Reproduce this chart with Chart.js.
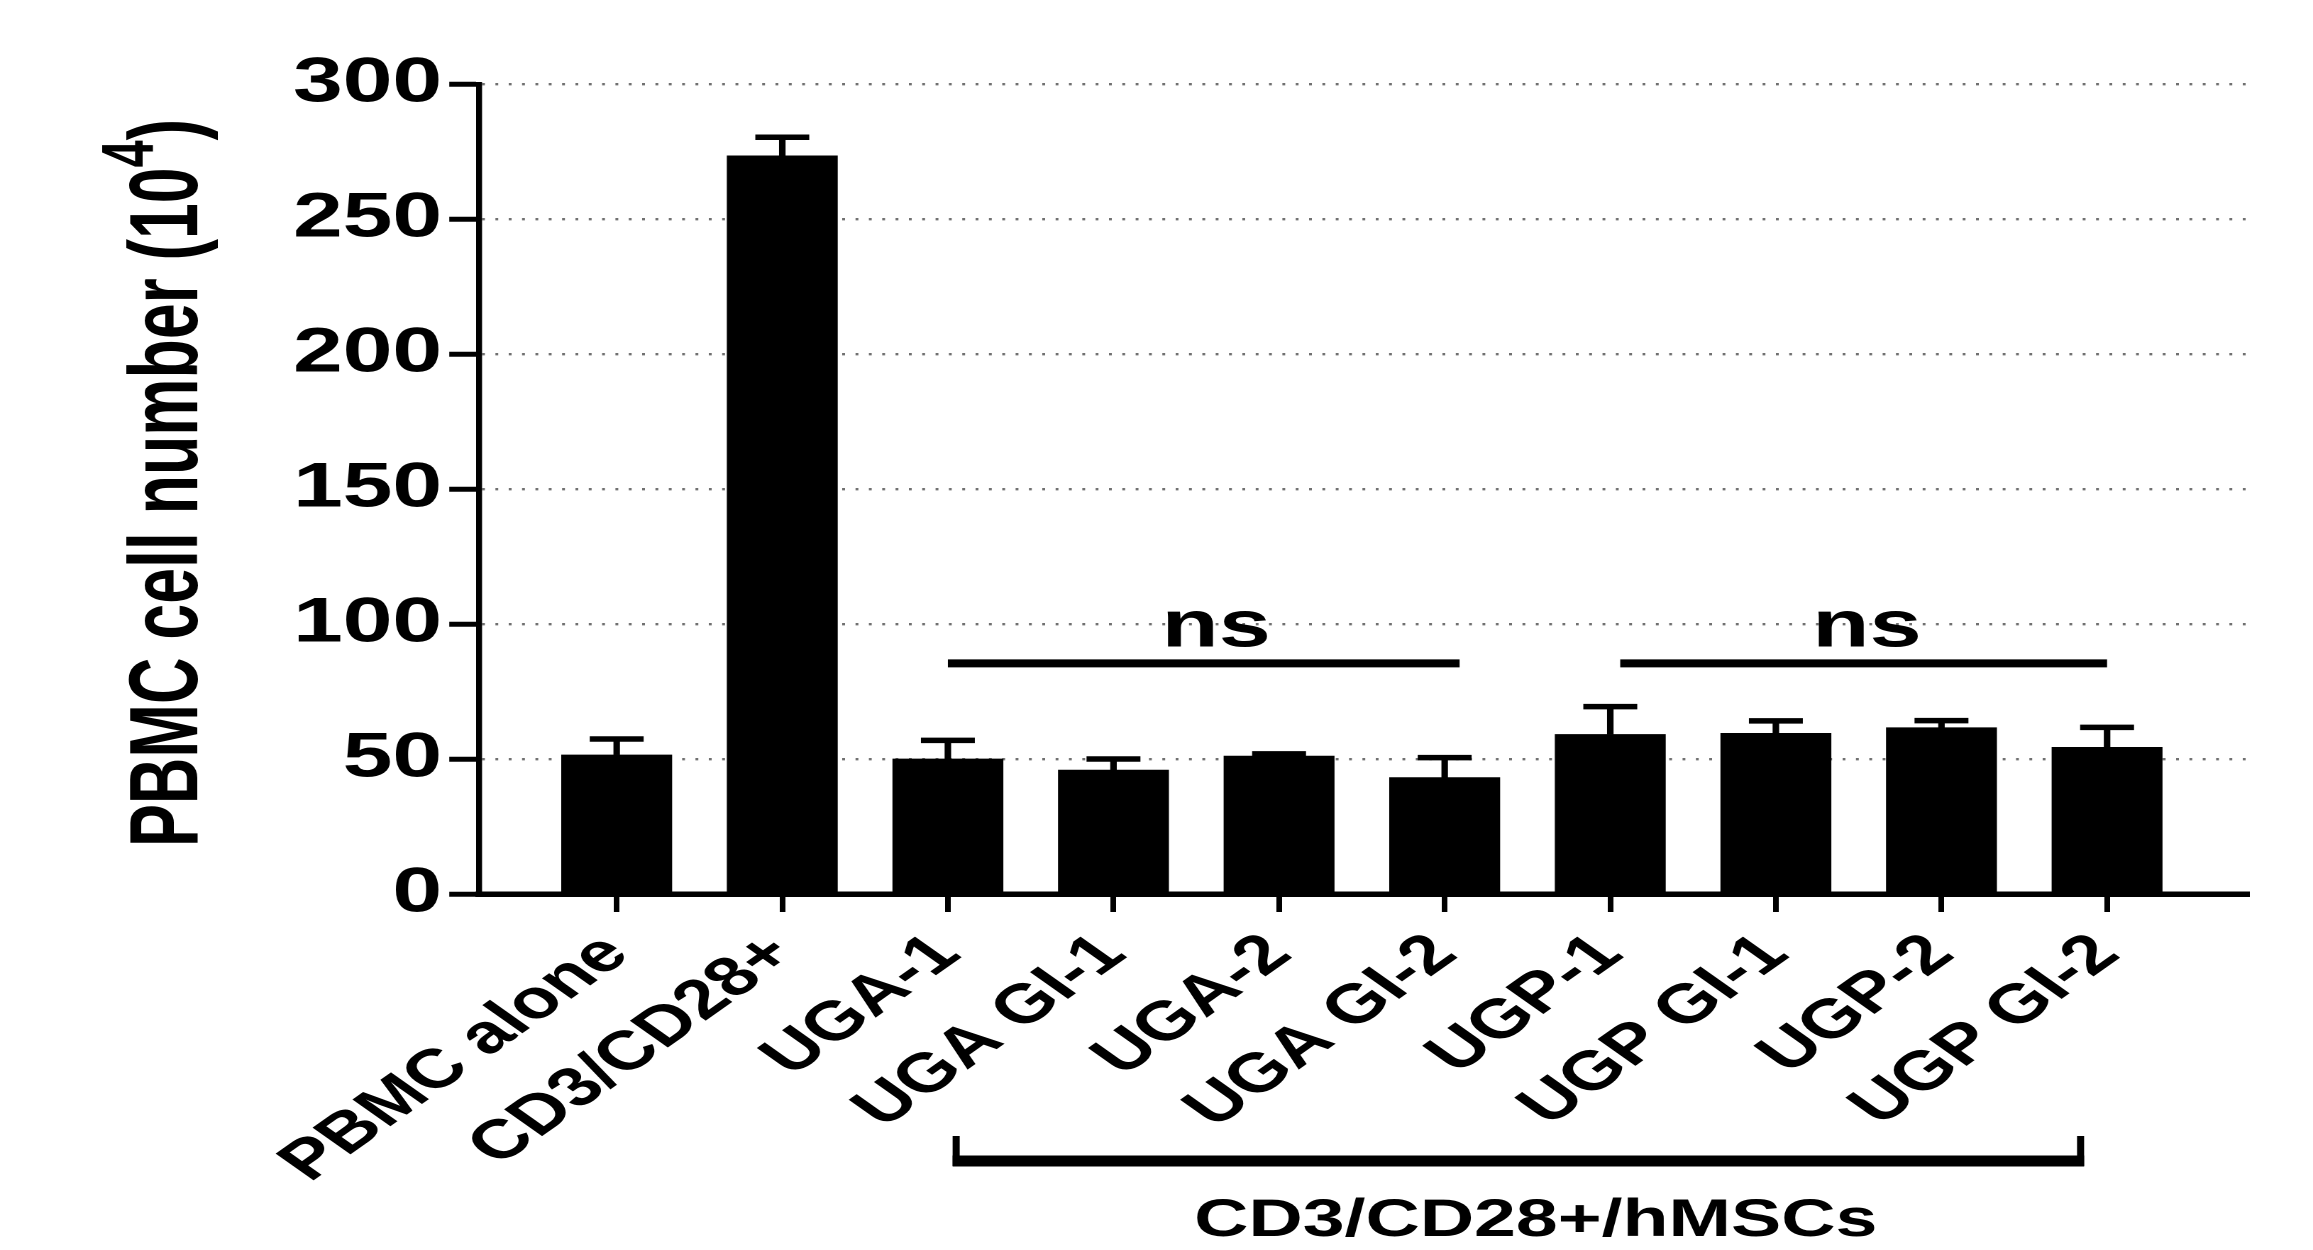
<!DOCTYPE html>
<html>
<head>
<meta charset="utf-8">
<script src="https://cdn.jsdelivr.net/npm/chart.js@4.4.1/dist/chart.umd.min.js"></script>
<style>
  html, body { margin: 0; padding: 0; background: #fff; overflow: hidden; }
  #wrap { width: 1630px; height: 1250px; transform: scaleX(1.419018); transform-origin: 0 0; }
</style>
</head>
<body>
<div id="wrap"><canvas id="c" width="1630" height="1250"></canvas></div>
<script>
// ---- data ----
const categories = ['PBMC alone', 'CD3/CD28+', 'UGA-1', 'UGA GI-1', 'UGA-2', 'UGA GI-2', 'UGP-1', 'UGP GI-1', 'UGP-2', 'UGP GI-2'];
const means = [51.5, 273.4, 50.0, 45.9, 51.1, 43.1, 59.1, 59.5, 61.6, 54.3];
const sems  = [5.9, 6.9, 6.9, 4.1, 0.8, 7.4, 10.3, 4.6, 2.6, 7.4];
const yTicks = [0, 50, 100, 150, 200, 250, 300];
const yTitleMain = 'PBMC cell number (10';
const yTitleSup = '4';
const yTitleEnd = ')';
const nsLabel = 'ns';
const nsGroups = [ { from: 2.0, to: 5.09, textX: 3.62 }, { from: 6.06, to: 9.0, textX: 7.55 } ];
const nsLineValue = 85.4;
const nsTextValue = 91.6;
const groupLabel = 'CD3/CD28+/hMSCs';
const bracketRange = { from: 2.05, to: 8.84, labelX: 5.55 };

const FONT = "'Liberation Sans', Arial, Helvetica, sans-serif";

const errorBars = {
  id: 'errorBars',
  afterDatasetsDraw(chart) {
    const ctx = chart.ctx, ys = chart.scales.y;
    const meta = chart.getDatasetMeta(0);
    ctx.save();
    ctx.strokeStyle = '#000';
    ctx.lineCap = 'butt';
    meta.data.forEach((bar, i) => {
      const top = ys.getPixelForValue(means[i] + sems[i]);
      ctx.lineWidth = 4.6;
      ctx.beginPath(); ctx.moveTo(bar.x, bar.y); ctx.lineTo(bar.x, top); ctx.stroke();
      ctx.lineWidth = 5.5;
      ctx.beginPath(); ctx.moveTo(bar.x - 19, top); ctx.lineTo(bar.x + 19, top); ctx.stroke();
    });
    ctx.restore();
  }
};

const yTitlePlugin = {
  id: 'yTitlePlugin',
  afterDraw(chart) {
    const ctx = chart.ctx, area = chart.chartArea;
    const cx = 113, cy = (area.top + area.bottom) / 2 - 6;
    ctx.save();
    ctx.translate(cx, cy);
    ctx.rotate(-Math.PI / 2);
    ctx.fillStyle = '#000';
    ctx.textBaseline = 'alphabetic';
    ctx.textAlign = 'left';
    const mainFont = 'bold 69px ' + FONT, supFont = 'bold 52px ' + FONT;
    ctx.font = mainFont; const w1 = ctx.measureText(yTitleMain).width; const w3 = ctx.measureText(yTitleEnd).width;
    ctx.font = supFont; const w2 = ctx.measureText(yTitleSup).width;
    const total = w1 + w2 + w3;
    ctx.scale(728 / total, 1);
    let x = -total / 2;
    const base = 26;
    ctx.font = mainFont; ctx.fillText(yTitleMain, x, base); x += w1;
    ctx.font = supFont; ctx.fillText(yTitleSup, x, base - 31); x += w2;
    ctx.font = mainFont; ctx.fillText(yTitleEnd, x, base);
    ctx.restore();
  }
};

const annotations = {
  id: 'annotations',
  afterDraw(chart) {
    const ctx = chart.ctx, xs = chart.scales.x, ys = chart.scales.y, area = chart.chartArea;
    ctx.save();
    ctx.strokeStyle = '#000';
    ctx.fillStyle = '#000';
    nsGroups.forEach(g => {
      const y = ys.getPixelForValue(nsLineValue);
      ctx.lineWidth = 8;
      ctx.beginPath(); ctx.moveTo(xs.getPixelForValue(g.from), y); ctx.lineTo(xs.getPixelForValue(g.to), y); ctx.stroke();
      ctx.font = 'bold 66px ' + FONT;
      ctx.textAlign = 'center'; ctx.textBaseline = 'alphabetic';
      ctx.fillText(nsLabel, xs.getPixelForValue(g.textX), ys.getPixelForValue(nsTextValue));
    });
    const bx1 = xs.getPixelForValue(bracketRange.from), bx2 = xs.getPixelForValue(bracketRange.to);
    const by = area.bottom + 267, byTop = area.bottom + 242;
    ctx.lineWidth = 11;
    ctx.beginPath(); ctx.moveTo(bx1 - 2.5, by); ctx.lineTo(bx2 + 2.5, by); ctx.stroke();
    ctx.lineWidth = 5;
    ctx.beginPath(); ctx.moveTo(bx1, by + 5); ctx.lineTo(bx1, byTop); ctx.stroke();
    ctx.beginPath(); ctx.moveTo(bx2, by + 5); ctx.lineTo(bx2, byTop); ctx.stroke();
    ctx.font = 'bold 53px ' + FONT;
    ctx.textAlign = 'center'; ctx.textBaseline = 'alphabetic';
    ctx.fillText(groupLabel, xs.getPixelForValue(bracketRange.labelX), area.bottom + 342);
    ctx.restore();
  }
};

new Chart(document.getElementById('c'), {
  type: 'bar',
  data: {
    datasets: [{
      data: categories.map((c, i) => ({ x: i, y: means[i] })),
      backgroundColor: '#000',
      borderWidth: 0,
      barThickness: 77.5
    }]
  },
  options: {
    responsive: false,
    devicePixelRatio: 2,
    animation: false,
    layout: { padding: { left: 0, right: 45, top: 84, bottom: 0 } },
    plugins: { legend: { display: false }, tooltip: { enabled: false } },
    scales: {
      x: {
        type: 'linear',
        offset: false,
        min: -0.831,
        max: 9.858,
        afterBuildTicks: s => { s.ticks = categories.map((c, i) => ({ value: i })); },
        afterFit: s => { s.height = 356; },
        ticks: {
          autoSkip: false,
          minRotation: 45,
          maxRotation: 45,
          padding: 10,
          color: '#000',
          font: { family: FONT, size: 55, weight: 'bold' },
          callback: v => categories[v]
        },
        grid: { offset: false, drawOnChartArea: false, drawTicks: true, tickLength: 18, tickColor: '#000', tickWidth: 4 },
        border: { display: true, color: '#000', width: 5.5 }
      },
      y: {
        min: 0,
        max: 300,
        afterBuildTicks: s => { s.ticks = yTicks.map(v => ({ value: v })); },
        afterFit: s => { s.width = 337.6; },
        ticks: {
          padding: 5,
          color: '#000',
          font: { family: FONT, size: 63, weight: 'bold' }
        },
        grid: { color: '#707070', lineWidth: 2.4, drawTicks: true, tickLength: 21, tickColor: '#000', tickWidth: 5 },
        border: { display: true, color: '#000', width: 4.2, dash: [2, 7.4] },
        title: { display: false }
      }
    }
  },
  plugins: [errorBars, annotations, yTitlePlugin]
});
</script>
</body>
</html>
